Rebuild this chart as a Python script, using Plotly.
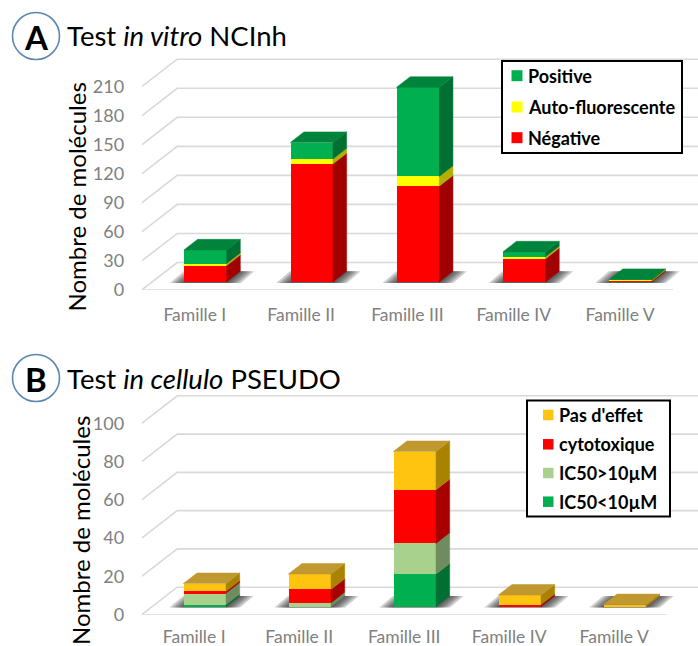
import plotly.graph_objects as go

W, H = 698, 646
FONT = "Lato"

families = ["Famille I", "Famille II", "Famille III", "Famille IV", "Famille V"]

# Panel A (bottom to top of the stack)
a_negative = [17, 122, 99, 24, 1]
a_auto = [2, 5, 10, 2, 1]
a_positive = [14, 17, 92, 5, 0.5]
a_ticks = [0, 30, 60, 90, 120, 150, 180, 210]

# Panel B (bottom to top of the stack)
b_low = [1, 0, 17, 0, 0]
b_high = [6, 2, 16, 0, 0]
b_cyto = [1, 7, 28, 1, 0]
b_none = [4, 8, 20, 5, 1]
b_ticks = [0, 20, 40, 60, 80, 100]

A_SERIES = [
    ("Négative", a_negative, "#FF0000", "#A00000", "#A00000"),
    ("Auto-fluorescente", a_auto, "#FFFF00", "#B0B000", "#B0B000"),
    ("Positive", a_positive, "#00B050", "#007032", "#00843C"),
]
B_SERIES = [
    ("IC50&lt;10µM", b_low, "#00B050", "#007032", "#00843C"),
    ("IC50&gt;10µM", b_high, "#A9D18E", "#6F8C5E", "#7F9D6A"),
    ("cytotoxique", b_cyto, "#FF0000", "#A80000", "#A00000"),
    ("Pas d'effet", b_none, "#FFC410", "#A98200", "#C09830"),
]

fig = go.Figure()
shapes, annotations = [], []


def px_x(p):
    return p / W


def px_y(p):
    return 1 - p / H


def panel(idx, series, ticks, y0_px, top_px, py, cat_px, cat_ticklen):
    """Oblique-projection stacked bars on one subplot."""
    xa = "x" if idx == 1 else f"x{idx}"
    ya = "y" if idx == 1 else f"y{idx}"
    left_px = 141.7
    dx = 35.5 / cat_px            # full floor depth, in category units
    dy = 27.5 / py                # full floor depth, in value units
    f0, f1 = 0.295, 0.68          # front / back of the bars inside the depth
    width = 42.7 / cat_px
    n = len(families)
    end = -0.5 + n
    right = -0.5 + (W - left_px) / cat_px

    # wall + floor gridlines
    for t in ticks:
        path = f"M -0.5,{t} L {-0.5 + dx},{t + dy} L {right},{t + dy}"
        shapes.append(dict(type="path", path=path, xref=xa, yref=ya, layer="below",
                           line=dict(color="#D9D9D9", width=1.6)))
    shapes.append(dict(type="line", x0=-0.5, x1=end, y0=0, y1=0, xref=xa, yref=ya,
                       layer="below", line=dict(color="#D9D9D9", width=1.6)))

    # soft shadows on the floor
    for i in range(n):
        xl = i + dx * f0 - width / 2
        xr = xl + width
        ddx = dx * (f1 - f0)
        yb, yt = dy * f0 - 1 / py, dy * f1
        for e_px in (2, 5, 8, 11, 14):
            e = e_px / cat_px
            path = (f"M {xl - e},{yb} L {xr + e},{yb} "
                    f"L {xr + ddx + e},{yt} L {xl + ddx - e},{yt} Z")
            shapes.append(dict(type="path", path=path, xref=xa, yref=ya, layer="below",
                               fillcolor="rgba(30,30,30,0.22)", line=dict(width=0)))

    # bars: front faces, then side faces and tops drawn from the same values
    cum = [dy * f0] * n
    tops = [None] * n
    for name, vals, col, side, top in series:
        bases = list(cum)
        fig.add_trace(go.Bar(
            x=[i + dx * f0 for i in range(n)], y=vals, base=bases,
            width=width, name=name, marker=dict(color=col, line=dict(width=0)),
            xaxis=xa, yaxis=ya, showlegend=False, hoverinfo="y",
        ))
        for i, v in enumerate(vals):
            if v <= 0:
                continue
            xr = i + dx * f0 + width / 2
            ddx, ddy = dx * (f1 - f0), dy * (f1 - f0)
            b, t = bases[i], bases[i] + v
            fig.add_trace(go.Scatter(
                x=[xr, xr + ddx, xr + ddx, xr, xr],
                y=[b, b + ddy, t + ddy, t, b],
                mode="lines", fill="toself", fillcolor=side, line=dict(width=0.5, color=side),
                xaxis=xa, yaxis=ya, showlegend=False, hoverinfo="skip",
            ))
            tops[i] = (t, top)
            cum[i] = t
    for i in range(n):
        t, top = tops[i]
        xl = i + dx * f0 - width / 2
        xr = xl + width
        ddx, ddy = dx * (f1 - f0), dy * (f1 - f0)
        fig.add_trace(go.Scatter(
            x=[xl, xr, xr + ddx, xl + ddx, xl],
            y=[t, t, t + ddy, t + ddy, t],
            mode="lines", fill="toself", fillcolor=top, line=dict(width=0.5, color=top),
            xaxis=xa, yaxis=ya, showlegend=False, hoverinfo="skip",
        ))

    xkey = "xaxis" if idx == 1 else f"xaxis{idx}"
    ykey = "yaxis" if idx == 1 else f"yaxis{idx}"
    fig.update_layout(**{
        xkey: dict(
            domain=[px_x(left_px), 1], range=[-0.5, right], anchor=ya, automargin=False,
            tickmode="array", tickvals=list(range(n)), ticktext=families,
            showgrid=False, zeroline=False, showline=False,
            ticks="outside", ticklen=cat_ticklen, tickcolor="rgba(0,0,0,0)",
            tickfont=dict(family=FONT, size=17.5, color="#808080"),
        ),
        ykey: dict(
            domain=[px_y(y0_px), px_y(top_px)], range=[0, (y0_px - top_px) / py], anchor=xa,
            automargin=False,
            tickmode="array", tickvals=ticks, ticktext=[str(t) for t in ticks],
            showgrid=False, zeroline=False, showline=False,
            ticks="outside", ticklen=13, tickcolor="rgba(0,0,0,0)",
            tickfont=dict(family=FONT, size=18, color="#808080"),
        ),
    })


panel(1, A_SERIES, a_ticks, 290, 50, 0.968, 106.3, 9)
panel(2, B_SERIES, b_ticks, 614.7, 385, 1.914, 105.0, 6)


def badge(cx, cy, letter):
    shapes.append(dict(type="circle", xref="paper", yref="paper",
                       x0=px_x(cx - 23.5), x1=px_x(cx + 23.5),
                       y0=px_y(cy + 23.5), y1=px_y(cy - 23.5),
                       fillcolor="white", line=dict(color="#5B86B0", width=1.6)))
    annotations.append(dict(text=f"<b>{letter}</b>", x=px_x(cx), y=px_y(cy + 1), xref="paper",
                            yref="paper", showarrow=False, xanchor="center", yanchor="middle",
                            font=dict(family=FONT, size=33, color="black")))


def label(text, x, y, size, angle=0, anchor="left"):
    annotations.append(dict(text=text, x=px_x(x), y=px_y(y), xref="paper", yref="paper",
                            showarrow=False, xanchor=anchor, yanchor="middle", textangle=angle,
                            font=dict(family=FONT, size=size, color="black")))


def legend_box(x0, y0, x1, y1, swatch_x0, swatch_x1, text_x, rows, series):
    shapes.append(dict(type="rect", xref="paper", yref="paper",
                       x0=px_x(x0), x1=px_x(x1), y0=px_y(y1), y1=px_y(y0),
                       fillcolor="white", line=dict(color="black", width=2)))
    half = (swatch_x1 - swatch_x0) / 2
    for row_y, (name, _vals, col, _side, _top) in zip(rows, reversed(series)):
        shapes.append(dict(type="rect", xref="paper", yref="paper",
                           x0=px_x(swatch_x0), x1=px_x(swatch_x1),
                           y0=px_y(row_y + half), y1=px_y(row_y - half),
                           fillcolor=col, line=dict(width=0)))
        label(f"<b>{name}</b>", text_x, row_y, 18)


badge(36, 36, "A")
badge(36, 378, "B")
label("Test <i>in vitro</i> NCInh", 65, 36, 27.5)
label("Test <i>in cellulo</i> PSEUDO", 65, 378, 27.5)
label("Nombre de molécules", 76.5, 197, 24, -90, "center")
label("Nombre de molécules", 80, 531, 24, -90, "center")
legend_box(502, 61, 682, 153, 511.5, 522.5, 525.5, [75.7, 107, 137.7], A_SERIES)
legend_box(527, 400.5, 670, 516.5, 543, 553.5, 557, [415, 444.3, 473, 501.7], B_SERIES)

fig.update_layout(
    width=W, height=H, margin=dict(l=0, r=0, t=0, b=0), autosize=False,
    paper_bgcolor="white", plot_bgcolor="rgba(0,0,0,0)", barmode="overlay", bargap=0,
    shapes=shapes, annotations=annotations, showlegend=False,
)

fig.write_html("out.html", config={"displayModeBar": False},
               post_script="document.body.style.margin='0';")
